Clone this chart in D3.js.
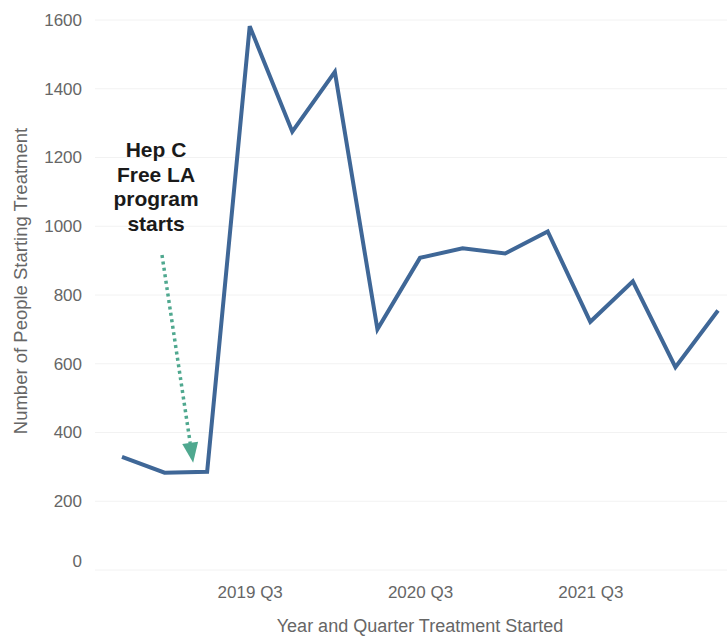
<!DOCTYPE html>
<html>
<head>
<meta charset="utf-8">
<script src="https://cdn.jsdelivr.net/npm/d3@7"></script>
<style>
  html, body { margin: 0; padding: 0; background: #fff; }
  svg { display: block; font-family: "Liberation Sans", Arial, sans-serif; }
</style>
</head>
<body>
<svg id="chart" width="727" height="636"></svg>
<script>
// Quarters in which people started treatment
const quarters = [
  "2018 Q4", "2019 Q1", "2019 Q2", "2019 Q3", "2019 Q4",
  "2020 Q1", "2020 Q2", "2020 Q3", "2020 Q4", "2021 Q1",
  "2021 Q2", "2021 Q3", "2021 Q4", "2022 Q1", "2022 Q2"
];
// Number of people starting treatment in each quarter
const starts = [
  329, 283, 286, 1582, 1275,
  1449, 700, 908, 936, 921,
  985, 722, 840, 590, 755
];
const yTicks = [0, 200, 400, 600, 800, 1000, 1200, 1400, 1600];
const xTickLabels = ["2019 Q3", "2020 Q3", "2021 Q3"];
const annotationLines = ["Hep C", "Free LA", "program", "starts"];
const annotationQuarter = "2019 Q2";

const svg = d3.select("#chart");

const x = d3.scalePoint().domain(quarters).range([122, 718]);
const y = d3.scaleLinear().domain([0, 1600]).range([570, 20]);

// Horizontal gridlines
svg.append("g")
  .selectAll("line")
  .data(yTicks)
  .join("line")
  .attr("x1", 95).attr("x2", 727)
  .attr("y1", d => y(d)).attr("y2", d => y(d))
  .attr("stroke", "#f2f2f2").attr("stroke-width", 1);

// Y axis labels (the zero label sits just inside the baseline)
const yAxis = svg.append("g")
  .attr("transform", "translate(82,0)")
  .call(d3.axisLeft(y).tickValues(yTicks).tickFormat(d3.format("d"))
    .tickSize(0).tickPadding(0));
yAxis.select(".domain").remove();
yAxis.selectAll("text")
  .attr("fill", "#666").attr("font-size", 17)
  .attr("font-family", "Liberation Sans, Arial, sans-serif")
  .attr("dy", d => d === 0 ? "-0.2em" : "0.32em");

// X axis labels
const xAxis = svg.append("g")
  .attr("transform", "translate(0,586)")
  .call(d3.axisBottom(x).tickValues(xTickLabels).tickSize(0).tickPadding(0));
xAxis.select(".domain").remove();
xAxis.selectAll("text")
  .attr("fill", "#666").attr("font-size", 17)
  .attr("font-family", "Liberation Sans, Arial, sans-serif");

// Axis titles
svg.append("text")
  .attr("x", x("2020 Q3")).attr("y", 632)
  .attr("text-anchor", "middle")
  .attr("fill", "#666").attr("font-size", 18)
  .text("Year and Quarter Treatment Started");

svg.append("text")
  .attr("transform", "translate(27,281) rotate(-90)")
  .attr("text-anchor", "middle")
  .attr("fill", "#666").attr("font-size", 18.5)
  .text("Number of People Starting Treatment");

// Trend line
const line = d3.line()
  .x((d, i) => x(quarters[i]))
  .y(d => y(d));

svg.append("path")
  .datum(starts)
  .attr("d", line)
  .attr("fill", "none")
  .attr("stroke", "#3f6797")
  .attr("stroke-width", 4)
  .attr("stroke-linejoin", "miter");

// Annotation text
svg.append("text")
  .attr("x", 156).attr("y", 157)
  .attr("text-anchor", "middle")
  .attr("fill", "#1a1a1a").attr("font-size", 21).attr("font-weight", "bold")
  .selectAll("tspan")
  .data(annotationLines)
  .join("tspan")
  .attr("x", 156)
  .attr("dy", (d, i) => i === 0 ? 0 : 24.5)
  .text(d => d);

// Dotted arrow pointing at the quarter the program began
const tipX = x(annotationQuarter) - 14;
const tipY = y(starts[quarters.indexOf(annotationQuarter)]) - 9;
const startX = 162, startY = 255;
const ang = Math.atan2(tipY - startY, tipX - startX);
const headLen = 20, headHalf = 8;
const baseX = tipX - headLen * Math.cos(ang), baseY = tipY - headLen * Math.sin(ang);

svg.append("line")
  .attr("x1", startX).attr("y1", startY)
  .attr("x2", baseX).attr("y2", baseY)
  .attr("stroke", "#4fa88f").attr("stroke-width", 3.5)
  .attr("stroke-dasharray", "3,3.5");

svg.append("path")
  .attr("d", d3.line()([
    [tipX, tipY],
    [baseX + headHalf * Math.sin(ang), baseY - headHalf * Math.cos(ang)],
    [baseX - headHalf * Math.sin(ang), baseY + headHalf * Math.cos(ang)]
  ]) + "Z")
  .attr("fill", "#4fa88f");
</script>
</body>
</html>
